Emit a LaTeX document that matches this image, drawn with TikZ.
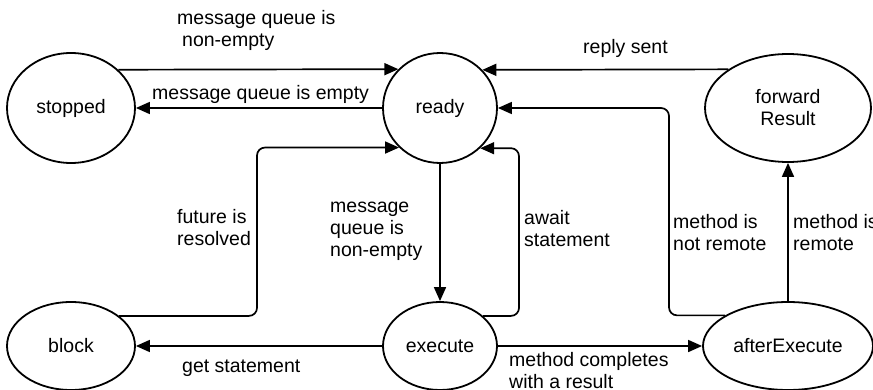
\documentclass[tikz,border=0pt]{standalone}
\usepackage{fontspec}
\setmainfont{Liberation Sans}
\usetikzlibrary{arrows.meta,shapes.geometric}

\begin{document}
\begin{tikzpicture}[x=1pt,y=-1pt,
  font=\fontsize{19.5}{22}\selectfont,
  state/.style={draw, ellipse, line width=1.8pt, inner sep=0pt, align=center},
  arr/.style={line width=1.7pt, -{Triangle[length=14pt,width=12pt]}},
  bent/.style={arr, rounded corners=8pt},
  lbl/.style={anchor=base west, align=left, inner sep=0pt}]
\useasboundingbox (0,0) rectangle (873,390);

% states
\node[state, minimum width=128pt, minimum height=110pt] (stopped) at (71,108) {stopped};
\node[state, minimum width=114pt, minimum height=110pt] (ready)   at (440,108) {ready};
\node[state, minimum width=166pt, minimum height=108pt] (fwd)     at (788,108) {forward\\Result};
\node[state, minimum width=128pt, minimum height=88pt]  (block)   at (71,346) {block};
\node[state, minimum width=114pt, minimum height=88pt]  (exec)    at (440,346) {execute};
\node[state, minimum width=170pt, minimum height=88pt]  (after)   at (788,346) {afterExecute};

% columns of the bent connectors
\coordinate (colBlock) at (257,0);
\coordinate (colAwait) at (519,0);
\coordinate (colLocal) at (669,0);

% transitions
\draw[arr] (stopped.39.4) -- (ready.137.3);
\draw[arr] (ready.west) -- (stopped.east);
\draw[arr] (fwd.147.2) -- (ready.42.7);
\draw[bent] (block.32.7) -| (colBlock |- ready.224.1) -- (ready.224.1);
\draw[arr] (ready.south) -- (exec.north);
\draw[bent] (exec.35.7) -| (colAwait |- ready.315.9) -- (ready.315.9);
\draw[arr] (exec.west) -- (block.east);
\draw[arr] (exec.east) -- (after.west);
\draw[bent] (after.154.25) -| (colLocal |- ready.east) -- (ready.east);
\draw[arr] (after.north) -- (fwd.south);

% transition labels (positioned by the baseline of their last line)
\node[lbl] (l1) at (177,47) {message queue is\\\hspace*{5pt}non-empty};
\node[lbl] (l2) at (152,100) {message queue is empty};
\node[lbl] (l3) at (583,54) {reply sent};
\node[lbl] (l4) at (177,246) {future is\\resolved};
\node[lbl] (l5) at (330,257) {message\\queue is\\non-empty};
\node[lbl] (l6) at (524,247) {await\\statement};
\node[lbl] (l7) at (673,251) {method is\\not remote};
\node[lbl] (l8) at (793,251) {method is\\remote};
\node[lbl] (l9) at (182,372) {get statement};
\node[lbl] (l10) at (509,388) {method completes\\with a result};
\end{tikzpicture}
\end{document}
